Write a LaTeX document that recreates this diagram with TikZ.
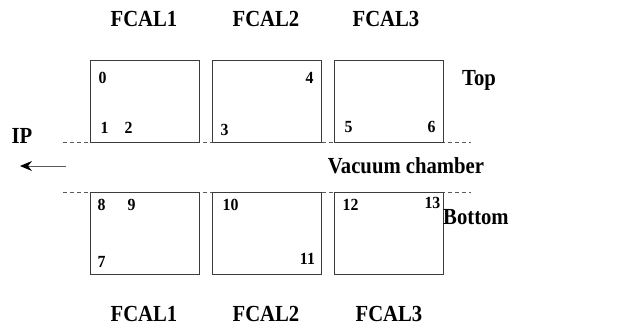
\documentclass[tikz,border=0pt]{standalone}
\usepackage{fontspec}
\setmainfont{Liberation Serif}
\usetikzlibrary{arrows.meta,positioning,calc}
\definecolor{BoxGray}{HTML}{3C3C3C}
\definecolor{DashGray}{HTML}{5A5A5A}

\begin{document}
\begin{tikzpicture}[x=1pt,y=-1pt,
  every node/.style={font=\bfseries},
  cal/.style={draw=BoxGray,fill=white,line width=0.9pt,minimum width=109pt,minimum height=82pt,inner sep=0pt},
  lbl/.style={font=\bfseries\fontsize{23}{26}\selectfont\addfontfeature{FakeStretch=0.9},inner sep=0pt},
  num/.style={font=\bfseries\fontsize{17}{19}\selectfont\addfontfeature{FakeStretch=0.93},inner sep=0pt}]
  \useasboundingbox (0,0) rectangle (635,329);
  % beam pipe edges
  \coordinate (vtl) at (63,142);
  \coordinate (vtr) at (471,142);
  \coordinate (vbl) at (63,192);
  \coordinate (vbr) at (471,192);
  \draw[DashGray,line width=0.9pt,dash pattern=on 4pt off 3pt] (vtl) -- (vtr);
  \draw[DashGray,line width=0.9pt,dash pattern=on 4pt off 3pt] (vbl) -- (vbr);
  % calorimeter modules
  \node[cal] (t1) at (144.5,101) {};
  \node[cal] (t2) at (266.5,101) {};
  \node[cal] (t3) at (388.5,101) {};
  \node[cal] (b1) at (144.5,233) {};
  \node[cal] (b2) at (266.5,233) {};
  \node[cal] (b3) at (388.5,233) {};
  % module names
  \node[lbl] (ft1) at (144,19) {FCAL1};
  \node[lbl] (ft2) at (266,19) {FCAL2};
  \node[lbl] (ft3) at (386,19) {FCAL3};
  \node[lbl] (fb1) at (144,314) {FCAL1};
  \node[lbl] (fb2) at (266,314) {FCAL2};
  \node[lbl] (fb3) at (389,314) {FCAL3};
  \node[lbl] (top) at (479,80) {Top};
  \node[lbl,anchor=west] (bot) at (443,217) {Bottom};
  \node[lbl] (vac) at (406,166) {Vacuum chamber};
  \node[lbl] (ip) at (22,136) {IP};
  % direction to interaction point
  \coordinate (arr) at (66,166);
  \coordinate (arl) at (20,166);
  \draw[DashGray,line width=0.9pt,-{Stealth[length=12pt,width=10pt,inset=4pt,color=black]}] (arr) -- (arl);
  % probe numbers
  \node[num] (n0) at ($(t1.north west)+(13,18)$) {0};
  \node[num] (n1) at ($(t1.south west)+(15,-15)$) {1};
  \node[num] (n2) at ($(t1.south west)+(39,-15)$) {2};
  \node[num] (n3) at ($(t2.south west)+(13,-12)$) {3};
  \node[num] (n4) at ($(t2.north east)+(-12,18)$) {4};
  \node[num] (n5) at ($(t3.south west)+(15,-15)$) {5};
  \node[num] (n6) at ($(t3.south east)+(-12,-15)$) {6};
  \node[num] (n7) at ($(b1.south west)+(12,-13)$) {7};
  \node[num] (n8) at ($(b1.north west)+(12,13)$) {8};
  \node[num] (n9) at ($(b1.north west)+(42,13)$) {9};
  \node[num] (n10) at ($(b2.north west)+(19,13)$) {10};
  \node[num] (n11) at ($(b2.south east)+(-14,-16)$) {11};
  \node[num] (n12) at ($(b3.north west)+(17,13)$) {12};
  \node[num] (n13) at ($(b3.north east)+(-11,11)$) {13};
\end{tikzpicture}
\end{document}
